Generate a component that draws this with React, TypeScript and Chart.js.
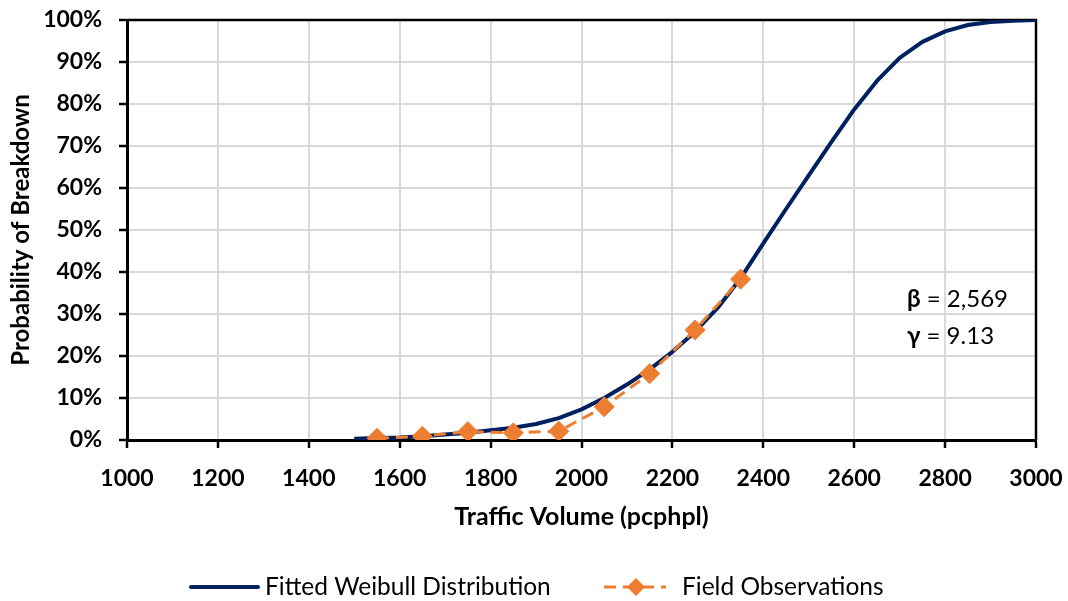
import { useEffect, useRef } from "react";
import { Chart, registerables } from "chart.js";

Chart.register(...registerables);

const FONT = "Lato";

// Fitted Weibull curve (traffic volume, probability %)
const weibullX = [1500, 1550, 1600, 1650, 1700, 1750, 1800, 1850, 1900, 1950, 2000, 2050, 2100, 2150, 2200, 2250, 2300, 2350, 2400, 2450, 2500, 2550, 2600, 2650, 2700, 2750, 2800, 2850, 2900, 2950, 3000];
const weibullY = [0.3, 0.45, 0.6, 0.9, 1.3, 1.7, 2.3, 2.9, 3.8, 5.2, 7.3, 10.0, 13.2, 16.8, 21.0, 25.8, 31.5, 38.5, 46.8, 55.0, 63.0, 71.0, 78.7, 85.5, 91.0, 94.8, 97.3, 98.8, 99.5, 99.85, 100];

// Field observations
const obsX = [1550, 1650, 1750, 1850, 1950, 2050, 2150, 2250, 2350];
const obsY = [0.4, 0.9, 2.0, 1.7, 2.1, 7.9, 15.8, 26.2, 38.3];

const seriesNames = ["Fitted Weibull Distribution", "Field Observations"];
const xTitle = "Traffic Volume (pcphpl)";
const yTitle = "Probability of Breakdown";
const paramLabels = [
  ["β", " = 2,569"],
  ["γ", " = 9.13"],
];

const NAVY = "#002060";
const ORANGE = "#ED7D31";

const overlayPlugin = {
  id: "overlay",
  beforeDatasetsDraw(chart: any) {
    const { ctx, chartArea: a } = chart;
    ctx.save();
    ctx.strokeStyle = "#000";
    ctx.lineWidth = 2.5;
    ctx.beginPath();
    ctx.moveTo(a.left, a.top);
    ctx.lineTo(a.right, a.top);
    ctx.lineTo(a.right, a.bottom);
    ctx.stroke();
    ctx.restore();
  },
  afterDraw(chart: any) {
    const { ctx } = chart;
    ctx.save();
    ctx.textBaseline = "middle";
    ctx.fillStyle = "#000";
    // parameter annotation
    const ys = [299, 336];
    paramLabels.forEach((p, i) => {
      let x = 907;
      ctx.font = `bold 24px ${FONT}`;
      ctx.fillText(p[0], x, ys[i]);
      x += ctx.measureText(p[0]).width;
      ctx.font = `24px ${FONT}`;
      ctx.fillText(p[1], x, ys[i]);
    });
    // legend
    const ly = 587;
    ctx.lineCap = "round";
    ctx.strokeStyle = NAVY;
    ctx.lineWidth = 4;
    ctx.beginPath();
    ctx.moveTo(191, ly);
    ctx.lineTo(258, ly);
    ctx.stroke();
    ctx.font = `24.5px ${FONT}`;
    ctx.fillStyle = "#000";
    ctx.fillText(seriesNames[0], 265, ly);

    ctx.lineCap = "butt";
    ctx.strokeStyle = ORANGE;
    ctx.lineWidth = 3;
    ctx.setLineDash([12, 7]);
    ctx.beginPath();
    ctx.moveTo(604, ly);
    ctx.lineTo(666, ly);
    ctx.stroke();
    ctx.setLineDash([]);
    ctx.fillStyle = ORANGE;
    const cx = 636, r = 9;
    ctx.beginPath();
    ctx.moveTo(cx - r, ly);
    ctx.lineTo(cx, ly - r);
    ctx.lineTo(cx + r, ly);
    ctx.lineTo(cx, ly + r);
    ctx.closePath();
    ctx.fill();
    ctx.fillStyle = "#000";
    ctx.fillText(seriesNames[1], 682, ly);
    ctx.restore();
  },
};

export default function App() {
  const ref = useRef<HTMLCanvasElement>(null);
  useEffect(() => {
    if (!ref.current) return;
    const chart = new Chart(ref.current, {
      type: "line",
      data: {
        datasets: [
          {
            label: seriesNames[0],
            data: weibullX.map((x, i) => ({ x, y: weibullY[i] })),
            borderColor: NAVY,
            backgroundColor: NAVY,
            borderWidth: 4,
            pointRadius: 0,
            tension: 0,
            borderJoinStyle: "round",
            fill: false,
            order: 2,
          },
          {
            label: seriesNames[1],
            data: obsX.map((x, i) => ({ x, y: obsY[i] })),
            borderColor: ORANGE,
            backgroundColor: ORANGE,
            borderWidth: 3,
            borderDash: [12, 7],
            pointStyle: "rectRot",
            pointRadius: 10,
            pointBorderWidth: 1,
            pointBackgroundColor: ORANGE,
            pointBorderColor: ORANGE,
            fill: false,
            order: 1,
          },
        ],
      },
      options: {
        animation: false,
        responsive: true,
        maintainAspectRatio: false,
        layout: { padding: { top: 20, right: 32, left: 0, bottom: 0 } },
        plugins: {
          legend: { display: false },
          tooltip: { enabled: false },
        },
        scales: {
          x: {
            type: "linear",
            min: 1000,
            max: 3000,
            ticks: {
              stepSize: 200,
              color: "#000",
              padding: 17,
              font: { family: FONT, size: 23, weight: "bold" },
              callback: (v: any) => String(v),
            },
            grid: {
              color: "#d9d9d9",
              lineWidth: 2,
              tickColor: "#000",
              tickLength: 8,
              tickWidth: 2.5,
            },
            border: { color: "#000", width: 3 },
            title: {
              display: true,
              text: xTitle,
              color: "#000",
              font: { family: FONT, size: 25, weight: "bold" },
              padding: { top: 0, bottom: 69 },
            },
            afterFit: (s: any) => {
              s.height = 161;
              s.paddingLeft = 0;
              s.paddingRight = 0;
            },
          },
          y: {
            min: 0,
            max: 100,
            ticks: {
              stepSize: 10,
              color: "#000",
              padding: 17,
              font: { family: FONT, size: 23, weight: "bold" },
              callback: (v: any) => `${v}%`,
            },
            grid: {
              color: "#d9d9d9",
              lineWidth: 2,
              tickColor: "#000",
              tickLength: 8,
              tickWidth: 2.5,
            },
            border: { color: "#000", width: 3 },
            title: {
              display: true,
              text: yTitle,
              color: "#000",
              font: { family: FONT, size: 24, weight: "bold" },
              padding: { top: 7, bottom: 0 },
            },
            afterFit: (s: any) => {
              s.width = 127;
              s.paddingTop = 0;
              s.paddingBottom = 0;
            },
          },
        },
      },
      plugins: [overlayPlugin],
    });
    return () => chart.destroy();
  }, []);
  return (
    <div style={{ position: "fixed", left: 0, top: 0, width: 1068, height: 601, background: "#fff" }}>
      <canvas ref={ref} />
    </div>
  );
}
